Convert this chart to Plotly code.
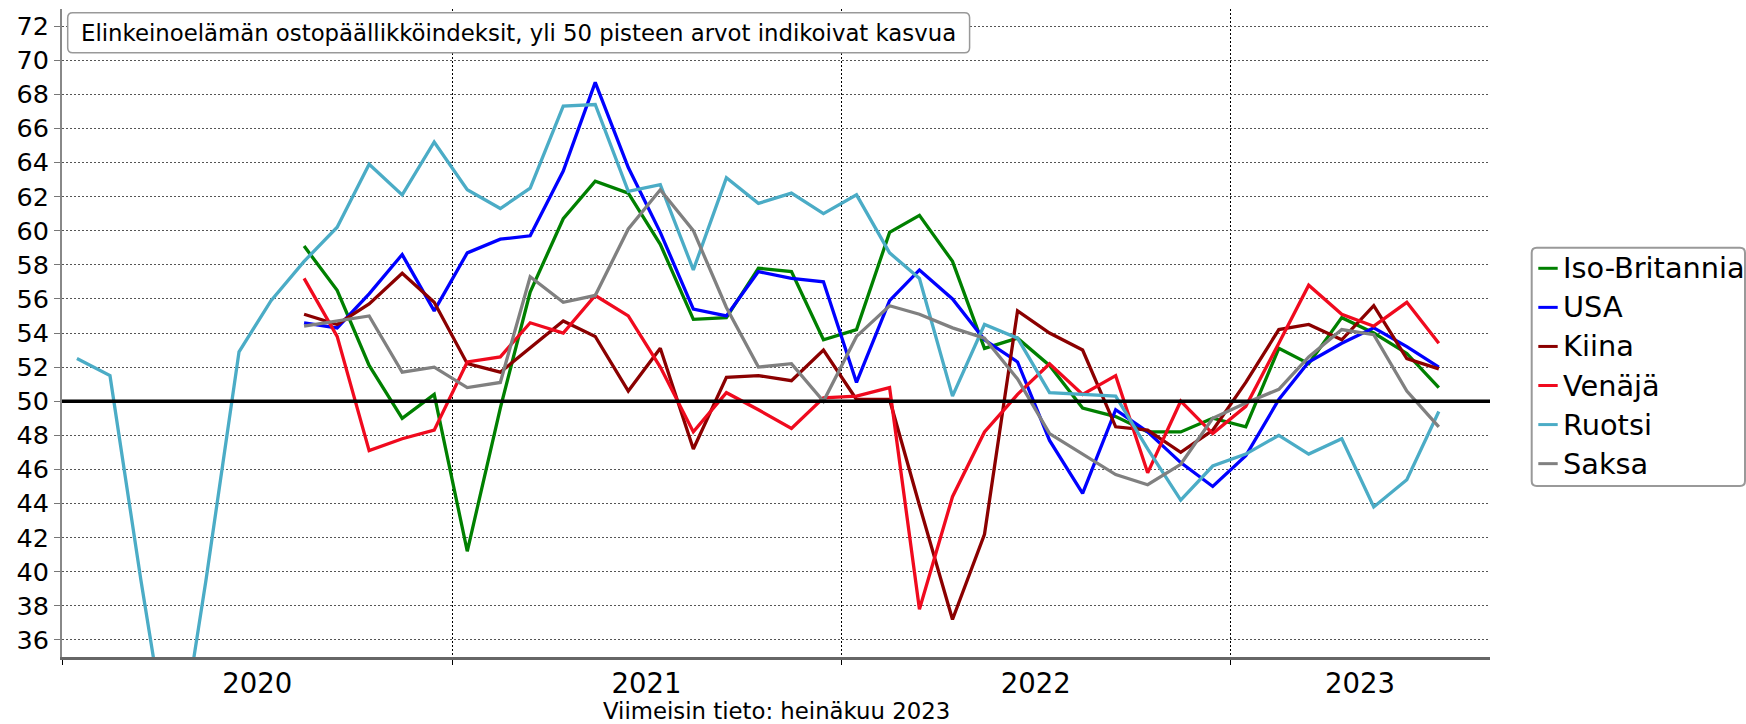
import pandas as pd
import plotly.graph_objects as go

# ---------------- data ----------------
months_ruotsi = pd.date_range("2020-01-01", periods=43, freq="MS") + pd.Timedelta(days=14)
months_main = pd.date_range("2020-08-01", periods=36, freq="MS") + pd.Timedelta(days=14)

iso_britannia = [59.1, 56.5, 52.1, 49.0, 50.4,
                 41.2, 49.6, 56.4, 60.7, 62.9, 62.2, 59.2, 54.8, 54.9, 57.8, 57.6, 53.6,
                 54.2, 59.9, 60.9, 58.2, 53.1, 53.7, 52.1, 49.6, 49.1, 48.2, 48.2, 49.0,
                 48.5, 53.1, 52.2, 54.9, 54.0, 52.8, 50.8]
usa = [54.6, 54.3, 56.3, 58.6, 55.3,
       58.7, 59.5, 59.7, 63.5, 68.7, 63.7, 59.9, 55.4, 55.0, 57.6, 57.2, 57.0,
       51.1, 55.9, 57.7, 56.0, 53.6, 52.3, 47.7, 44.6, 49.5, 48.2, 46.4, 45.0,
       46.8, 50.1, 52.3, 53.4, 54.3, 53.2, 52.0]
kiina = [55.1, 54.5, 55.7, 57.5, 55.8,
         52.2, 51.7, 53.1, 54.7, 53.8, 50.6, 53.1, 47.2, 51.4, 51.5, 51.2, 53.0,
         50.1, 50.1, 43.9, 37.2, 42.2, 55.3, 54.0, 53.0, 48.5, 48.3, 47.0, 48.3,
         51.1, 54.2, 54.5, 53.6, 55.6, 52.5, 51.9]
venaja = [57.2, 53.8, 47.1, 47.8, 48.3,
          52.3, 52.6, 54.6, 54.0, 56.2, 55.0, 52.0, 48.2, 50.5, 49.5, 48.4, 50.2,
          50.3, 50.8, 37.8, 44.4, 48.2, 50.4, 52.2, 50.4, 51.5, 45.8, 50.0, 48.1,
          49.7, 53.4, 56.8, 55.1, 54.4, 55.8, 53.4]
ruotsi = [52.5, 51.5, 39.5, 27.5, 39.5, 52.9, 55.9, 58.2, 60.2, 63.9, 62.1, 65.2,
          62.4, 61.3, 62.5, 67.3, 67.4, 62.3, 62.7, 57.7, 63.1, 61.6, 62.2, 61.0,
          62.1, 58.7, 57.2, 50.3, 54.5, 53.7, 50.5, 50.4, 50.3, 47.2, 44.2, 46.2,
          46.9, 48.0, 46.9, 47.8, 43.8, 45.4, 49.4]
saksa = [54.4, 54.7, 55.0, 51.7, 52.0,
         50.8, 51.1, 57.3, 55.8, 56.2, 60.1, 62.4, 60.0, 55.5, 52.0, 52.2, 50.0,
         53.8, 55.6, 55.1, 54.3, 53.7, 51.3, 48.1, 46.9, 45.7, 45.1, 46.3, 49.0,
         49.9, 50.7, 52.6, 54.2, 53.9, 50.6, 48.5]

series_names = ["Iso-Britannia", "USA", "Kiina", "Venäjä", "Ruotsi", "Saksa"]
series_values = [iso_britannia, usa, kiina, venaja, ruotsi, saksa]
series_x = [months_main, months_main, months_main, months_main, months_ruotsi, months_main]
series_colors = ["#008000", "#0000ff", "#8b0000", "#f00a1e", "#4bacc6", "#808080"]

year_labels = ["2020", "2021", "2022", "2023"]
year_label_pos = ["2020-07-02", "2021-07-02", "2022-07-02", "2023-05-02"]
year_bounds = ["2020-01-01", "2021-01-01", "2022-01-01", "2023-01-01"]
y_ticks = list(range(36, 73, 2))

title_text = "Elinkeinoelämän ostopäällikköindeksit, yli 50 pisteen arvot indikoivat kasvua"
footnote_text = "Viimeisin tieto: heinäkuu 2023"

# ---------------- layout geometry (pixels) ----------------
W, H = 1746, 724
PL, PR, PT, PB = 62, 1490, 9, 657
FONT = "DejaVu Sans"


def px_x(px):
    return (px - PL) / (PR - PL)


def px_y(py):
    return (PB - py) / (PB - PT)


def rounded_path(x0, y0, x1, y1, r):
    def p(x, y):
        return f"{px_x(x):.5f},{px_y(y):.5f}"
    return (f"M {p(x0 + r, y0)} L {p(x1 - r, y0)} Q {p(x1, y0)} {p(x1, y0 + r)} "
            f"L {p(x1, y1 - r)} Q {p(x1, y1)} {p(x1 - r, y1)} "
            f"L {p(x0 + r, y1)} Q {p(x0, y1)} {p(x0, y1 - r)} "
            f"L {p(x0, y0 + r)} Q {p(x0, y0)} {p(x0 + r, y0)} Z")


fig = go.Figure()
for name, xs, vals, col in zip(series_names, series_x, series_values, series_colors):
    fig.add_trace(go.Scatter(x=xs, y=vals, mode="lines", name=name,
                             line=dict(color=col, width=3.3), showlegend=False,
                             hoverinfo="skip"))

shapes = []
annotations = []

# 50 reference line
shapes.append(dict(type="line", xref="paper", yref="y", x0=0, x1=1, y0=50, y1=50,
                   line=dict(color="black", width=3.5), layer="above"))

# title box
shapes.append(dict(type="path", xref="paper", yref="paper",
                   path=rounded_path(67.7, 12.7, 969.6, 52.7, 5),
                   line=dict(color="#999999", width=1.5), fillcolor="white", layer="above"))
annotations.append(dict(xref="paper", yref="paper", x=px_x(78.5), y=px_y(33),
                        xanchor="left", yanchor="middle", showarrow=False,
                        text=title_text, font=dict(family=FONT, size=22.8, color="black")))

# legend box (manual)
shapes.append(dict(type="path", xref="paper", yref="paper",
                   path=rounded_path(1531.7, 247.7, 1745, 486, 5),
                   line=dict(color="#999999", width=2), fillcolor="white", layer="above"))
for i, (name, col) in enumerate(zip(series_names, series_colors)):
    yc = 268.3 + 39.07 * i
    shapes.append(dict(type="line", xref="paper", yref="paper",
                       x0=px_x(1538.3), x1=px_x(1557.7), y0=px_y(yc), y1=px_y(yc),
                       line=dict(color=col, width=3), layer="above"))
    annotations.append(dict(xref="paper", yref="paper", x=px_x(1560.5), y=px_y(yc),
                            xanchor="left", yanchor="middle", showarrow=False,
                            text=name, font=dict(family=FONT, size=28.8, color="black")))

# footnote
annotations.append(dict(xref="paper", yref="paper", x=px_x(776), y=px_y(711),
                        xanchor="center", yanchor="middle", showarrow=False,
                        text=footnote_text, font=dict(family=FONT, size=22.8, color="black")))

fig.update_layout(
    width=W, height=H,
    margin=dict(l=PL, r=W - PR, t=PT, b=H - PB, pad=0),
    paper_bgcolor="white", plot_bgcolor="white",
    font=dict(family=FONT, color="black"),
    showlegend=False,
    shapes=shapes, annotations=annotations,
    xaxis=dict(
        range=["2020-01-01", "2023-09-01"],
        tickmode="array", tickvals=year_label_pos, ticktext=year_labels,
        ticks="", showgrid=False, zeroline=False,
        tickfont=dict(family=FONT, size=27.5, color="black"),
        showline=True, linecolor="#666666", linewidth=3,
        minor=dict(tickmode="array", tickvals=year_bounds, showgrid=True,
                   gridcolor="black", griddash="2px,2px", gridwidth=1,
                   ticks="outside", ticklen=5, tickcolor="black", tickwidth=1),
    ),
    yaxis=dict(
        range=[35, 73],
        tickmode="array", tickvals=y_ticks,
        ticks="outside", ticklen=6, tickcolor="#777777", tickwidth=1,
        showgrid=True, gridcolor="#555555", griddash="2px,2px", gridwidth=1,
        zeroline=False,
        tickfont=dict(family=FONT, size=25.5, color="black"),
        showline=True, linecolor="#888888", linewidth=2,
    ),
)

fig.write_html("out.html", config={"displayModeBar": False},
               post_script="document.body.style.margin='0px';document.body.style.overflow='hidden';")
